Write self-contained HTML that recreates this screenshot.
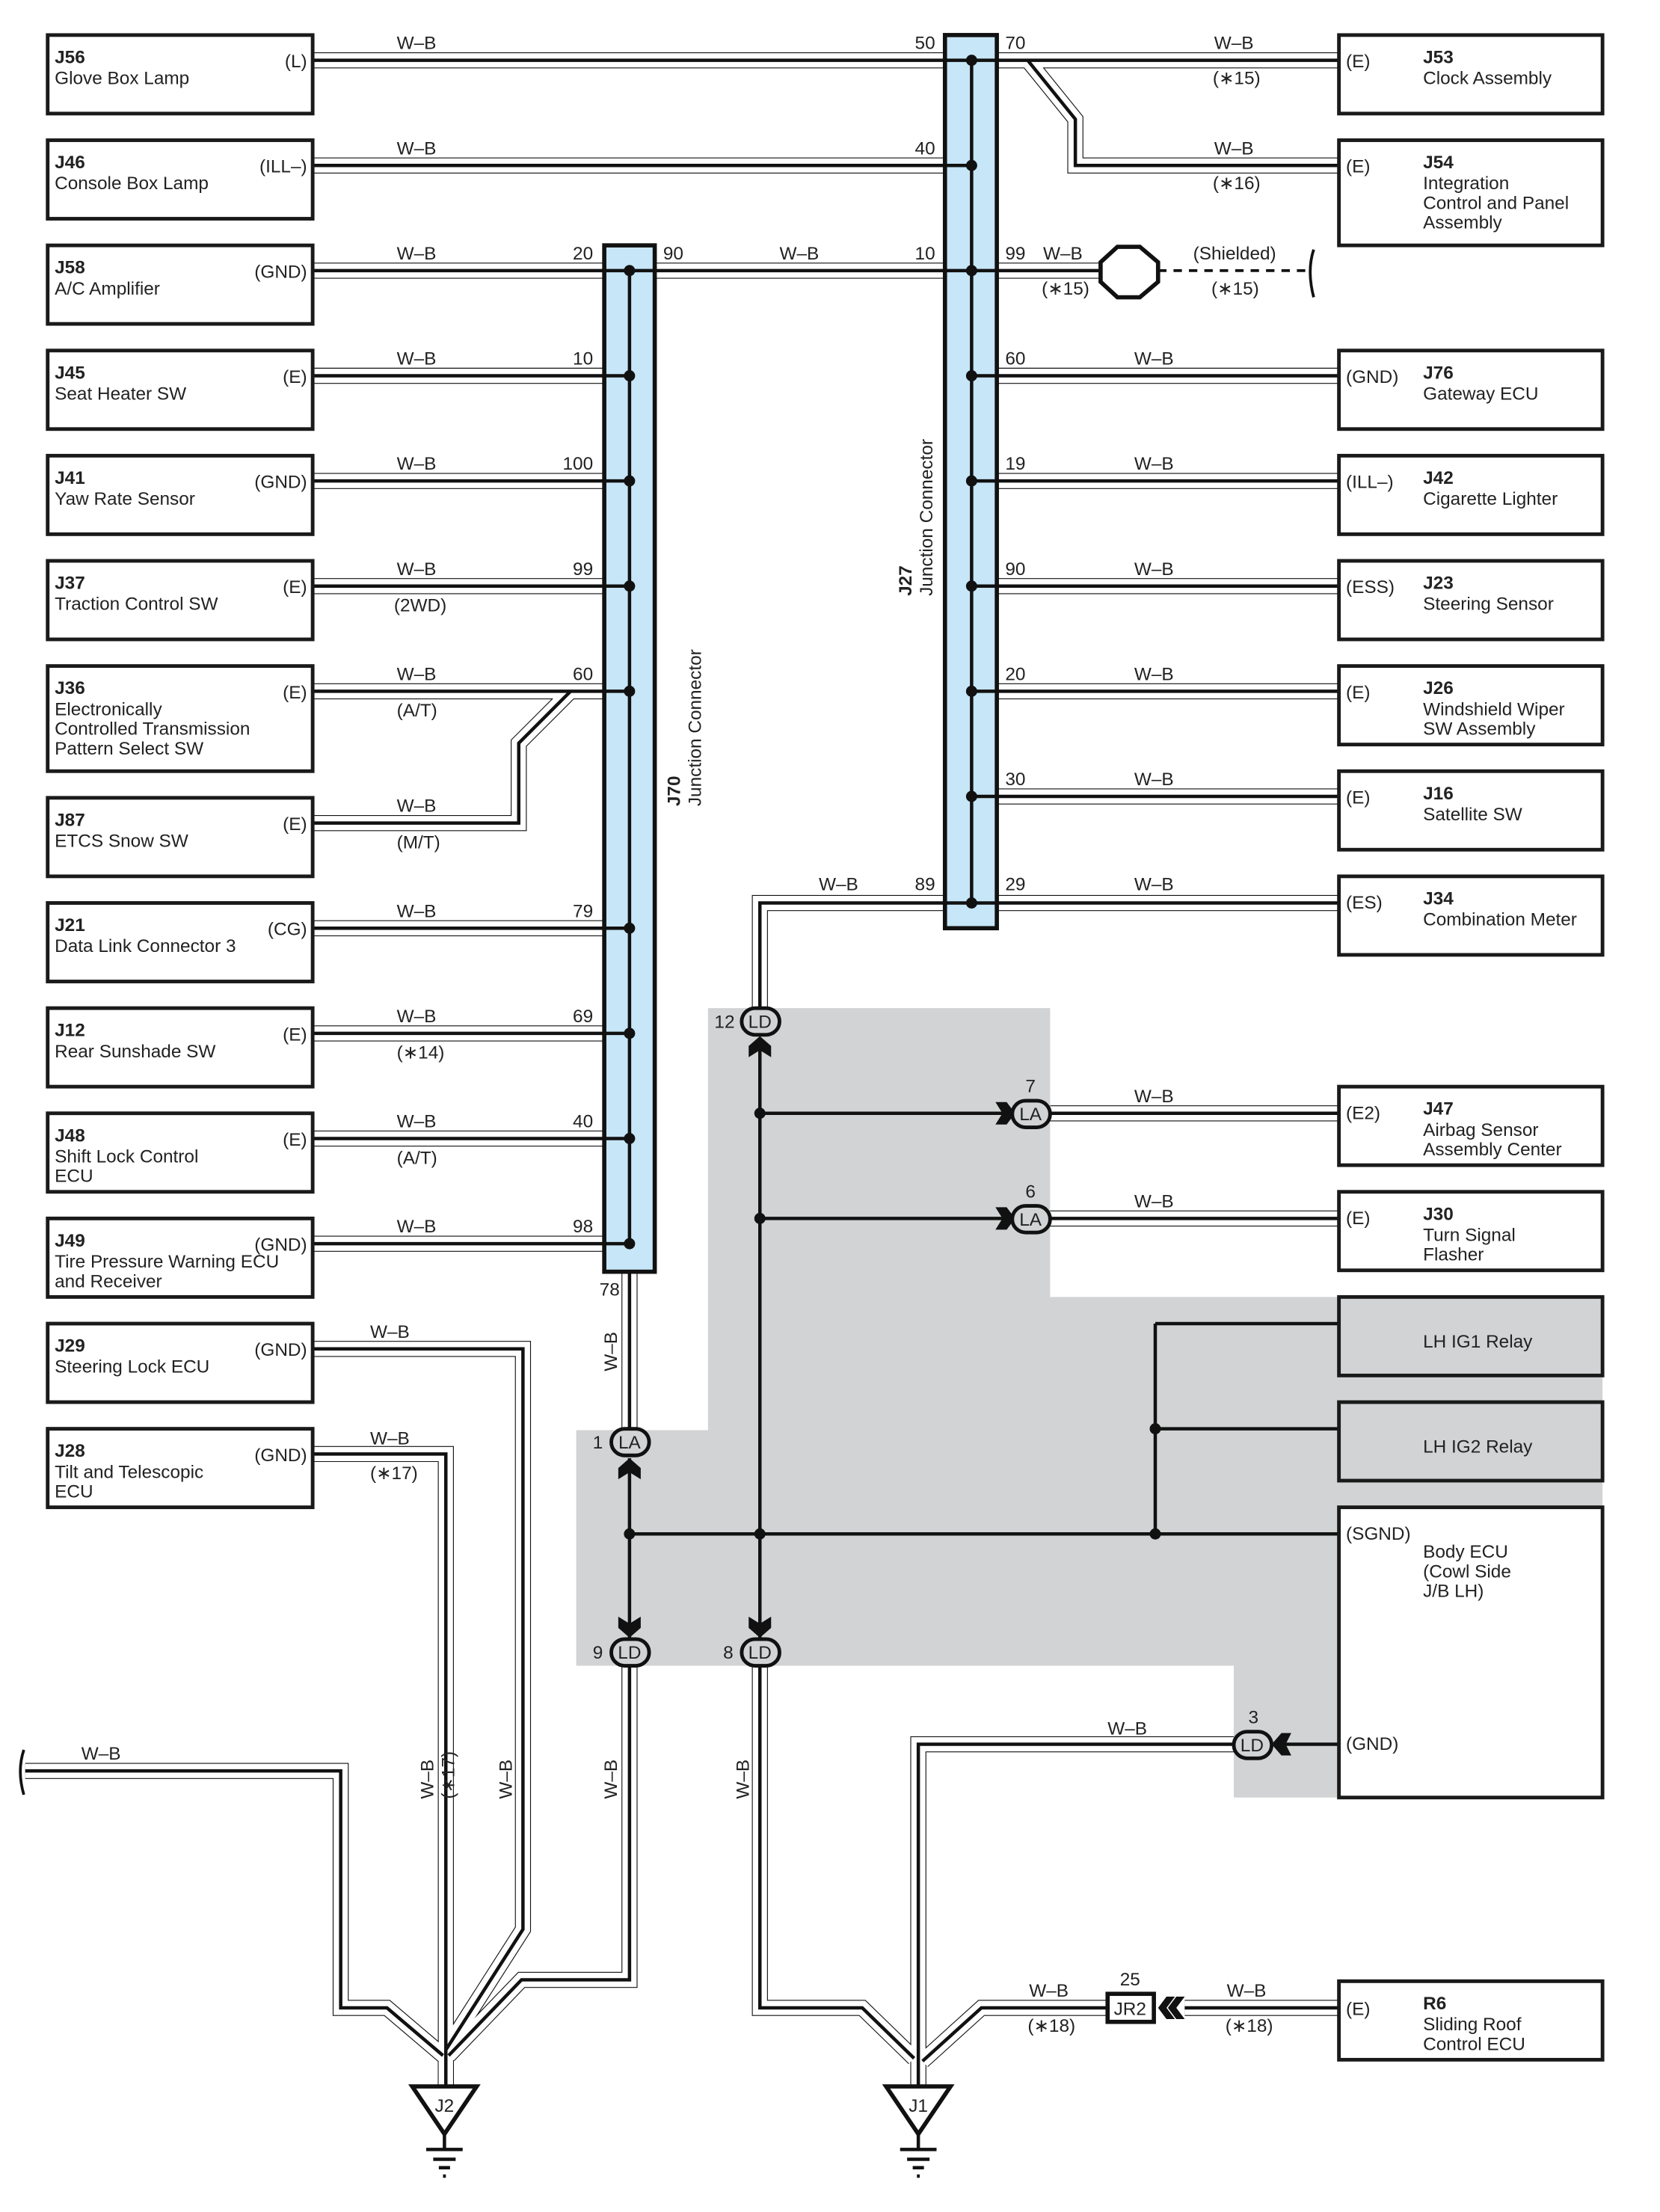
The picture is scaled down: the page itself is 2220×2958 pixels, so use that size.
<!DOCTYPE html>
<html><head><meta charset="utf-8"><style>
html,body{margin:0;padding:0;background:#fff}
svg{display:block}
text{font-family:"Liberation Sans",sans-serif;font-size:13px;fill:#222}
.b{font-weight:bold}
.bx{fill:#fff;stroke:#1a1a1a;stroke-width:2.6}
.gbx{fill:#d1d3d4;stroke:#1a1a1a;stroke-width:2.6}
</style></head><body>
<svg width="2220" height="2958" viewBox="0 0 1184 1577.6" preserveAspectRatio="none" xmlns="http://www.w3.org/2000/svg">
<defs>
<g id="W" fill="none" stroke-linejoin="miter">
<path d="M223,43H674M711,43H955M733,43L767,85V118H955"/>
<path d="M223,118H674"/>
<path d="M223,193H431M467,193H674M711,193H785"/>
<path d="M223,268H431M223,343H431M223,418H431M223,493H431M223,587H370V530L407,493H431M223,662H431M223,737H431M223,812H431M223,887H431"/>
<path d="M711,268H955M711,343H955M711,418H955M711,493H955M711,568H955M711,644H955"/>
<path d="M674,644H542V718"/>
<path d="M449,907V1018"/>
<path d="M749,794H955M749,869H955"/>
<path d="M223,962H373V1376L318,1462V1488"/>
<path d="M223,1037H318V1488"/>
<path d="M18,1263H243V1432H276L316,1466"/>
<path d="M449,1188V1412H372L320,1466"/>
<path d="M542,1188V1432H615L652,1468"/>
<path d="M880,1244H655V1488"/>
<path d="M955,1432H845M790,1432H700L658,1470"/>
</g>
</defs>
<!-- gray region -->
<polygon points="505,719 749,719 749,925 1143,925 1143,1075 955,1075 955,1282 880,1282 880,1188 411,1188 411,1020 505,1020" fill="#d1d3d4"/>
<!-- wires -->
<use href="#W" stroke="#111" stroke-width="11.4"/>
<use href="#W" stroke="#fff" stroke-width="10.2"/>
<use href="#W" stroke="#111" stroke-width="2.4"/>
<!-- dashed shielded -->
<path d="M826,193H935" stroke="#111" stroke-width="2" stroke-dasharray="6,5"/>
<path d="M937,178Q932,193 937,212" stroke="#111" stroke-width="2" fill="none"/>
<path d="M17,1248Q12,1263 17,1280" stroke="#111" stroke-width="2" fill="none"/>
<polygon points="797,176 813,176 826,187 826,201 813,212 797,212 785,201 785,187" fill="#fff" stroke="#111" stroke-width="3"/>

<!-- J70 -->
<rect x="431" y="175" width="36" height="732" fill="#c7e6f8" stroke="#111" stroke-width="3"/>
<path d="M449,193V887" stroke="#111" stroke-width="2.4"/>
<g fill="#111">
<circle cx="449" cy="193" r="4"/><circle cx="449" cy="268" r="4"/><circle cx="449" cy="343" r="4"/><circle cx="449" cy="418" r="4"/><circle cx="449" cy="493" r="4"/><circle cx="449" cy="662" r="4"/><circle cx="449" cy="737" r="4"/><circle cx="449" cy="812" r="4"/><circle cx="449" cy="887" r="4"/>
</g>
<path d="M431,193H467M431,268H449M431,343H449M431,418H449M431,493H449M431,662H449M431,737H449M431,812H449M431,887H449" stroke="#111" stroke-width="2.4"/>
<!-- J27 -->
<rect x="674" y="25" width="37" height="637" fill="#c7e6f8" stroke="#111" stroke-width="3"/>
<path d="M693,43V644" stroke="#111" stroke-width="2.4"/>
<path d="M674,43H711M674,118H693M674,193H711M693,268H711M693,343H711M693,418H711M693,493H711M693,568H711M674,644H711" stroke="#111" stroke-width="2.4"/>
<g fill="#111">
<circle cx="693" cy="43" r="4"/><circle cx="693" cy="118" r="4"/><circle cx="693" cy="193" r="4"/><circle cx="693" cy="268" r="4"/><circle cx="693" cy="343" r="4"/><circle cx="693" cy="418" r="4"/><circle cx="693" cy="493" r="4"/><circle cx="693" cy="568" r="4"/><circle cx="693" cy="644" r="4"/>
</g>
<text transform="translate(485,575) rotate(-90)" class="b">J70</text>
<text transform="translate(500,575) rotate(-90)">Junction Connector</text>
<text transform="translate(650,425) rotate(-90)" class="b">J27</text>
<text transform="translate(665,425) rotate(-90)">Junction Connector</text>

<!-- inner lines -->
<g stroke="#111" stroke-width="2.4" fill="none">
<path d="M542,745V1170"/>
<path d="M542,794H718M542,869H718"/>
<path d="M449,1040V1170"/>
<path d="M449,1094H955"/>
<path d="M824,944V1094M824,944H955M824,1019H955"/>
<path d="M912,1244H955"/>
</g>
<g fill="#111">
<circle cx="542" cy="794" r="4"/><circle cx="542" cy="869" r="4"/><circle cx="449" cy="1094" r="4"/><circle cx="542" cy="1094" r="4"/><circle cx="824" cy="1094" r="4"/><circle cx="824" cy="1019" r="4"/>
<!-- chevrons -->
<polygon points="710,786 718,786 724,794 718,802 710,802 715,794"/>
<polygon points="710,861 718,861 724,869 718,877 710,877 715,869"/>
<polygon points="534,754 534,746 542,739 550,746 550,754 542,749"/>
<polygon points="441,1055 441,1047 449,1040 457,1047 457,1055 449,1050"/>
<polygon points="441,1153 441,1161 449,1168 457,1161 457,1153 449,1158"/>
<polygon points="534,1153 534,1161 542,1168 550,1161 550,1153 542,1158"/>
<polygon points="921,1236 914,1236 907,1244 914,1252 921,1252 917,1244"/>
<polygon points="838,1424 832,1424 826,1432 832,1440 838,1440 832,1432"/>
<polygon points="845,1424 839,1424 833,1432 839,1440 845,1440 839,1432"/>
</g>
<!-- connector ovals -->
<g fill="#d1d3d4" stroke="#111" stroke-width="2.6">
<rect x="529" y="719" width="27" height="19" rx="9.5"/>
<rect x="722" y="785" width="27" height="19" rx="9.5"/>
<rect x="722" y="860" width="27" height="19" rx="9.5"/>
<rect x="436" y="1019" width="27" height="19" rx="9.5"/>
<rect x="436" y="1169" width="27" height="19" rx="9.5"/>
<rect x="529" y="1169" width="27" height="19" rx="9.5"/>
<rect x="880" y="1235" width="27" height="19" rx="9.5"/>
</g>
<text x="542" y="733" text-anchor="middle">LD</text><text x="524" y="733" text-anchor="end">12</text>
<text x="735" y="799" text-anchor="middle">LA</text><text x="735" y="779" text-anchor="middle">7</text>
<text x="735" y="874" text-anchor="middle">LA</text><text x="735" y="854" text-anchor="middle">6</text>
<text x="449" y="1033" text-anchor="middle">LA</text><text x="430" y="1033" text-anchor="end">1</text>
<text x="449" y="1183" text-anchor="middle">LD</text><text x="430" y="1183" text-anchor="end">9</text>
<text x="542" y="1183" text-anchor="middle">LD</text><text x="523" y="1183" text-anchor="end">8</text>
<text x="893" y="1249" text-anchor="middle">LD</text><text x="894" y="1229" text-anchor="middle">3</text>
<!-- JR2 -->
<rect x="790" y="1422" width="33" height="20" fill="#fff" stroke="#111" stroke-width="3"/>
<text x="806" y="1437" text-anchor="middle">JR2</text><text x="806" y="1416" text-anchor="middle">25</text>

<!-- grounds -->
<polygon points="294,1488 340,1488 317,1522" fill="#fff" stroke="#111" stroke-width="3"/>
<text x="317" y="1506" text-anchor="middle">J2</text>
<polygon points="632,1488 678,1488 655,1522" fill="#fff" stroke="#111" stroke-width="3"/>
<text x="655" y="1506" text-anchor="middle">J1</text>
<g stroke="#111" stroke-width="2.4">
<path d="M317,1522V1532M304,1533H330M309,1540H325M313,1546H321M316,1552H318"/>
<path d="M655,1522V1532M642,1533H668M647,1540H663M651,1546H659M654,1552H656"/>
</g>

<!-- left boxes -->
<g>
<rect class="bx" x="34" y="25" width="189" height="56"/>
<rect class="bx" x="34" y="100" width="189" height="56"/>
<rect class="bx" x="34" y="175" width="189" height="56"/>
<rect class="bx" x="34" y="250" width="189" height="56"/>
<rect class="bx" x="34" y="325" width="189" height="56"/>
<rect class="bx" x="34" y="400" width="189" height="56"/>
<rect class="bx" x="34" y="475" width="189" height="75"/>
<rect class="bx" x="34" y="569" width="189" height="56"/>
<rect class="bx" x="34" y="644" width="189" height="56"/>
<rect class="bx" x="34" y="719" width="189" height="56"/>
<rect class="bx" x="34" y="794" width="189" height="56"/>
<rect class="bx" x="34" y="869" width="189" height="56"/>
<rect class="bx" x="34" y="944" width="189" height="56"/>
<rect class="bx" x="34" y="1019" width="189" height="56"/>
</g>
<g>
<text x="39" y="45" class="b">J56</text><text x="39" y="60">Glove Box Lamp</text><text x="219" y="48" text-anchor="end">(L)</text>
<text x="39" y="120" class="b">J46</text><text x="39" y="135">Console Box Lamp</text><text x="219" y="123" text-anchor="end">(ILL–)</text>
<text x="39" y="195" class="b">J58</text><text x="39" y="210">A/C Amplifier</text><text x="219" y="198" text-anchor="end">(GND)</text>
<text x="39" y="270" class="b">J45</text><text x="39" y="285">Seat Heater SW</text><text x="219" y="273" text-anchor="end">(E)</text>
<text x="39" y="345" class="b">J41</text><text x="39" y="360">Yaw Rate Sensor</text><text x="219" y="348" text-anchor="end">(GND)</text>
<text x="39" y="420" class="b">J37</text><text x="39" y="435">Traction Control SW</text><text x="219" y="423" text-anchor="end">(E)</text>
<text x="39" y="495" class="b">J36</text><text x="39" y="510">Electronically</text><text x="39" y="524">Controlled Transmission</text><text x="39" y="538">Pattern Select SW</text><text x="219" y="498" text-anchor="end">(E)</text>
<text x="39" y="589" class="b">J87</text><text x="39" y="604">ETCS Snow SW</text><text x="219" y="592" text-anchor="end">(E)</text>
<text x="39" y="664" class="b">J21</text><text x="39" y="679">Data Link Connector 3</text><text x="219" y="667" text-anchor="end">(CG)</text>
<text x="39" y="739" class="b">J12</text><text x="39" y="754">Rear Sunshade SW</text><text x="219" y="742" text-anchor="end">(E)</text>
<text x="39" y="814" class="b">J48</text><text x="39" y="829">Shift Lock Control</text><text x="39" y="843">ECU</text><text x="219" y="817" text-anchor="end">(E)</text>
<text x="39" y="889" class="b">J49</text><text x="39" y="904">Tire Pressure Warning ECU</text><text x="39" y="918">and Receiver</text><text x="219" y="892" text-anchor="end">(GND)</text>
<text x="39" y="964" class="b">J29</text><text x="39" y="979">Steering Lock ECU</text><text x="219" y="967" text-anchor="end">(GND)</text>
<text x="39" y="1039" class="b">J28</text><text x="39" y="1054">Tilt and Telescopic</text><text x="39" y="1068">ECU</text><text x="219" y="1042" text-anchor="end">(GND)</text>
</g>
<!-- right boxes -->
<g>
<rect class="bx" x="955" y="25" width="188" height="56"/>
<rect class="bx" x="955" y="100" width="188" height="75"/>
<rect class="bx" x="955" y="250" width="188" height="56"/>
<rect class="bx" x="955" y="325" width="188" height="56"/>
<rect class="bx" x="955" y="400" width="188" height="56"/>
<rect class="bx" x="955" y="475" width="188" height="56"/>
<rect class="bx" x="955" y="550" width="188" height="56"/>
<rect class="bx" x="955" y="625" width="188" height="56"/>
<rect class="bx" x="955" y="775" width="188" height="56"/>
<rect class="bx" x="955" y="850" width="188" height="56"/>
<rect class="gbx" x="955" y="925" width="188" height="56"/>
<rect class="gbx" x="955" y="1000" width="188" height="56"/>
<rect class="bx" x="955" y="1075" width="188" height="207"/>
<rect class="bx" x="955" y="1413" width="188" height="56"/>
</g>
<g>
<text x="960" y="48">(E)</text><text x="1015" y="45" class="b">J53</text><text x="1015" y="60">Clock Assembly</text>
<text x="960" y="123">(E)</text><text x="1015" y="120" class="b">J54</text><text x="1015" y="135">Integration</text><text x="1015" y="149">Control and Panel</text><text x="1015" y="163">Assembly</text>
<text x="960" y="273">(GND)</text><text x="1015" y="270" class="b">J76</text><text x="1015" y="285">Gateway ECU</text>
<text x="960" y="348">(ILL–)</text><text x="1015" y="345" class="b">J42</text><text x="1015" y="360">Cigarette Lighter</text>
<text x="960" y="423">(ESS)</text><text x="1015" y="420" class="b">J23</text><text x="1015" y="435">Steering Sensor</text>
<text x="960" y="498">(E)</text><text x="1015" y="495" class="b">J26</text><text x="1015" y="510">Windshield Wiper</text><text x="1015" y="524">SW Assembly</text>
<text x="960" y="573">(E)</text><text x="1015" y="570" class="b">J16</text><text x="1015" y="585">Satellite SW</text>
<text x="960" y="648">(ES)</text><text x="1015" y="645" class="b">J34</text><text x="1015" y="660">Combination Meter</text>
<text x="960" y="798">(E2)</text><text x="1015" y="795" class="b">J47</text><text x="1015" y="810">Airbag Sensor</text><text x="1015" y="824">Assembly Center</text>
<text x="960" y="873">(E)</text><text x="1015" y="870" class="b">J30</text><text x="1015" y="885">Turn Signal</text><text x="1015" y="899">Flasher</text>
<text x="1015" y="961">LH IG1 Relay</text>
<text x="1015" y="1036">LH IG2 Relay</text>
<text x="960" y="1098">(SGND)</text><text x="1015" y="1111">Body ECU</text><text x="1015" y="1125">(Cowl Side</text><text x="1015" y="1139"> J/B LH)</text>
<text x="960" y="1248">(GND)</text>
<text x="960" y="1437">(E)</text><text x="1015" y="1433" class="b">R6</text><text x="1015" y="1448">Sliding Roof</text><text x="1015" y="1462">Control ECU</text>
</g>
<!-- wire labels -->
<g>
<text x="283" y="35">W–B</text><text x="283" y="110">W–B</text><text x="283" y="185">W–B</text><text x="283" y="260">W–B</text><text x="283" y="335">W–B</text><text x="283" y="410">W–B</text><text x="283" y="485">W–B</text><text x="283" y="579">W–B</text><text x="283" y="654">W–B</text><text x="283" y="729">W–B</text><text x="283" y="804">W–B</text><text x="283" y="879">W–B</text>
<text x="264" y="954">W–B</text><text x="264" y="1030">W–B</text>
<text x="281" y="436">(2WD)</text><text x="283" y="511">(A/T)</text><text x="283" y="605">(M/T)</text><text x="283" y="755">(∗14)</text><text x="283" y="830">(A/T)</text><text x="264" y="1055">(∗17)</text>
<text x="58" y="1255">W–B</text>
<text x="423" y="185" text-anchor="end">20</text><text x="423" y="260" text-anchor="end">10</text><text x="423" y="335" text-anchor="end">100</text><text x="423" y="410" text-anchor="end">99</text><text x="423" y="485" text-anchor="end">60</text><text x="423" y="654" text-anchor="end">79</text><text x="423" y="729" text-anchor="end">69</text><text x="423" y="804" text-anchor="end">40</text><text x="423" y="879" text-anchor="end">98</text>
<text x="442" y="924" text-anchor="end">78</text>
<text x="473" y="185">90</text><text x="556" y="185">W–B</text>
<text x="667" y="35" text-anchor="end">50</text><text x="667" y="110" text-anchor="end">40</text><text x="667" y="185" text-anchor="end">10</text><text x="667" y="635" text-anchor="end">89</text><text x="584" y="635">W–B</text>
<text x="717" y="35">70</text><text x="717" y="185">99</text><text x="717" y="260">60</text><text x="717" y="335">19</text><text x="717" y="410">90</text><text x="717" y="485">20</text><text x="717" y="560">30</text><text x="717" y="635">29</text>
<text x="866" y="35">W–B</text><text x="865" y="60">(∗15)</text><text x="866" y="110">W–B</text><text x="865" y="135">(∗16)</text>
<text x="744" y="185">W–B</text><text x="743" y="210">(∗15)</text><text x="851" y="185">(Shielded)</text><text x="864" y="210">(∗15)</text>
<text x="809" y="260">W–B</text><text x="809" y="335">W–B</text><text x="809" y="410">W–B</text><text x="809" y="485">W–B</text><text x="809" y="560">W–B</text><text x="809" y="635">W–B</text><text x="809" y="786">W–B</text><text x="809" y="861">W–B</text>
<text x="790" y="1237">W–B</text>
<text x="734" y="1424">W–B</text><text x="733" y="1449">(∗18)</text><text x="875" y="1424">W–B</text><text x="874" y="1449">(∗18)</text>
<text transform="translate(440,978) rotate(-90)">W–B</text>
<text transform="translate(309,1283) rotate(-90)">W–B</text>
<text transform="translate(324,1283) rotate(-90)">(∗17)</text>
<text transform="translate(365,1283) rotate(-90)">W–B</text>
<text transform="translate(440,1283) rotate(-90)">W–B</text>
<text transform="translate(534,1283) rotate(-90)">W–B</text>
</g>
</svg>
</body></html>
